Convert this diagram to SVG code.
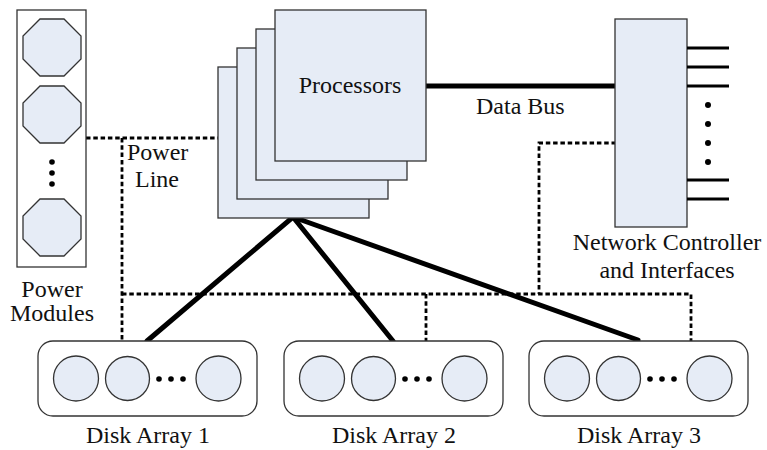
<svg xmlns="http://www.w3.org/2000/svg" width="767" height="450" viewBox="0 0 767 450">
  <style>
    .box { fill: #e6ecf6; stroke: #333; stroke-width: 1.3; }
    .frame { fill: #fff; stroke: #333; stroke-width: 1.3; }
    .bus { fill: none; stroke: #000; stroke-width: 5; stroke-linecap: round; }
    .wire { fill: none; stroke: #000; stroke-width: 2.8; stroke-dasharray: 4.5 2.8; }
    .port { stroke: #000; stroke-width: 3; }
    .lbl { font-family: "Liberation Serif", "Times New Roman", Times, serif; font-size: 24px; fill: #111; }
    .mid { text-anchor: middle; }
  </style>
  <defs>
    <polygon id="oct" class="box" points="17,0 41,0 58,17 58,40 41,57 17,57 0,40 0,17"/>
    <g id="disks">
      <rect class="frame" x="0" y="0" width="219" height="75" rx="15" ry="15"/>
      <circle class="box" cx="38" cy="37.5" r="22.5"/>
      <circle class="box" cx="89.5" cy="37.5" r="22"/>
      <circle class="box" cx="180.5" cy="37.5" r="22.5"/>
      <circle cx="121" cy="38" r="2.8" fill="#000"/>
      <circle cx="133" cy="38" r="2.8" fill="#000"/>
      <circle cx="145" cy="38" r="2.8" fill="#000"/>
    </g>
  </defs>

  <!-- power distribution (dashed) -->
  <g id="connectors">
    <path class="wire" d="M86,138 H218"/>
    <path class="wire" d="M122,138 V341"/>
    <path class="wire" d="M122,294 H691 V341"/>
    <path class="wire" d="M426,294 V341"/>
    <path class="wire" d="M616,143 H539 V294"/>
    <!-- data bus and disk links -->
    <path class="bus" d="M425,86 H615"/>
    <path class="bus" d="M147,341 L293,217 L393,341"/>
    <path class="bus" d="M293,217 L638,340"/>
  </g>

  <g id="power-modules">
    <rect class="frame" x="17" y="10" width="69" height="257"/>
    <use href="#oct" x="23" y="19"/>
    <use href="#oct" x="23" y="86"/>
    <use href="#oct" x="23" y="199"/>
    <circle cx="52" cy="162" r="2.8" fill="#000"/>
    <circle cx="52" cy="173" r="2.8" fill="#000"/>
    <circle cx="52" cy="184" r="2.8" fill="#000"/>
    <text class="lbl mid" x="52" y="297">Power</text>
    <text class="lbl mid" x="52" y="321">Modules</text>
  </g>

  <g id="processors">
    <rect class="box" x="218" y="67" width="151" height="151"/>
    <rect class="box" x="237" y="48" width="151" height="151"/>
    <rect class="box" x="256" y="29" width="151" height="151"/>
    <rect class="box" x="275" y="10" width="151" height="151"/>
    <text class="lbl mid" x="350" y="93">Processors</text>
  </g>

  <g id="network-controller">
    <rect class="box" x="615" y="19" width="72" height="208"/>
    <line class="port" x1="687" y1="48" x2="729" y2="48"/>
    <line class="port" x1="687" y1="67" x2="729" y2="67"/>
    <line class="port" x1="687" y1="86" x2="729" y2="86"/>
    <line class="port" x1="687" y1="180" x2="729" y2="180"/>
    <line class="port" x1="687" y1="199" x2="729" y2="199"/>
    <circle cx="708" cy="105" r="3" fill="#000"/>
    <circle cx="708" cy="124" r="3" fill="#000"/>
    <circle cx="708" cy="143" r="3" fill="#000"/>
    <circle cx="708" cy="162" r="3" fill="#000"/>
    <text class="lbl mid" x="667" y="250">Network Controller</text>
    <text class="lbl mid" x="667" y="278">and Interfaces</text>
  </g>

  <g id="disk-array-1">
    <use href="#disks" x="38" y="341"/>
    <text class="lbl mid" x="148" y="443">Disk Array 1</text>
  </g>
  <g id="disk-array-2">
    <use href="#disks" x="284" y="341"/>
    <text class="lbl mid" x="394" y="443">Disk Array 2</text>
  </g>
  <g id="disk-array-3">
    <use href="#disks" x="529" y="341"/>
    <text class="lbl mid" x="639" y="443">Disk Array 3</text>
  </g>

  <g id="bus-labels">
    <text class="lbl" x="127" y="160">Power</text>
    <text class="lbl" x="135" y="187">Line</text>
    <text class="lbl" x="476" y="114">Data Bus</text>
  </g>
</svg>
